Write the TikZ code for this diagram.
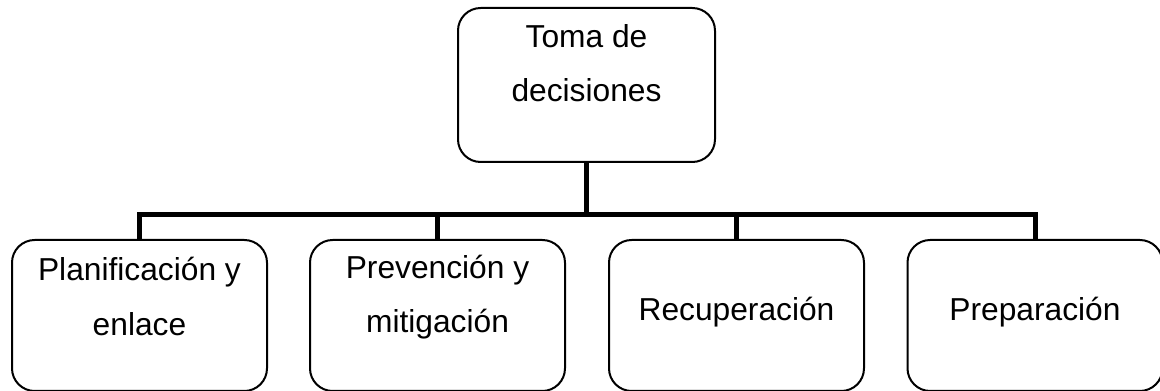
\documentclass[tikz,border=0pt]{standalone}
\usepackage{fontspec}
\setmainfont{Liberation Sans}
\definecolor{boxline}{RGB}{0,0,0}

\begin{document}
\begin{tikzpicture}[x=0.75pt,y=-0.75pt,
    stage/.style={draw=boxline, line width=1.5pt, rounded corners=17pt,
      align=center, inner sep=0pt, minimum width=191.25pt, minimum height=113.25pt,
      font=\fontsize{23.8}{41}\selectfont},
    link/.style={draw=boxline, line width=3.75pt}]

        \useasboundingbox (0,0) rectangle (1160,391);

        % Top box
        \node[stage, minimum width=192.75pt, minimum height=115.5pt, text depth=33pt] (toma) at (586.5,85) {Toma de\\decisiones};

        % Bottom row
        \node[stage, text depth=29pt] (plan) at (139.5,315.5) {Planificación y\\enlace};
        \node[stage, text depth=32.5pt] (prev) at (437.5,315.5) {Prevención y\\mitigación};
        \node[stage, text depth=10.5pt] (recu) at (736.5,315.5) {Recuperación};
        \node[stage, text depth=10.5pt] (prep) at (1035,315.5) {Preparación};

        % Tree lines
        \coordinate (bar) at (586.5,215);
        \draw[link] (toma.south) -- (bar);
        \draw[link] (plan.north) -- (plan.north |- bar) -- (prep.north |- bar) -- (prep.north);
        \draw[link] (prev.north) -- (prev.north |- bar);
        \draw[link] (recu.north) -- (recu.north |- bar);
    \end{tikzpicture}
\end{document}
